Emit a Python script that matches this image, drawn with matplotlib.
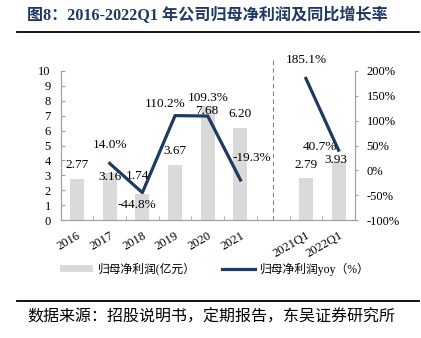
import matplotlib
matplotlib.use('Agg')
import matplotlib.pyplot as plt
from matplotlib.lines import Line2D
from matplotlib.patches import Patch
import numpy as np

plt.rcParams['font.family'] = ['Liberation Serif', 'Noto Sans CJK SC']

# data
categories = ['2016', '2017', '2018', '2019', '2020', '2021', '', '2021Q1', '2022Q1']
profit = [2.77, 3.16, 1.74, 3.67, 7.68, 6.20, np.nan, 2.79, 3.93]
yoy = [np.nan, 14.0, -44.8, 110.2, 109.3, -19.3, np.nan, 185.1, 40.7]

# label offsets in pixels (dx, dy), hand placed like the original
bar_off = [(0, 14), (0, -4), (-5, 18), (0, 14), (-1, -5), (0, 14), None, (0, 13), (-3, 1)]
yoy_off = [None, (0, 18), (-5, -12), (-10, 12), (0, 18), (11, 22), None, (0, 18), (-19, 3)]

bar_col = '#DADADA'
line_col = '#1F3A60'
axis_col = '#A0A0A0'

fig = plt.figure(figsize=(4.21, 3.38), dpi=100)
ax = fig.add_axes([0.144, 0.349, 0.699, 0.441])
ax2 = ax.twinx()

x = np.arange(len(categories))
ax.bar(x, profit, width=0.43, color=bar_col, zorder=1)
ax2.plot(x, yoy, color=line_col, linewidth=2.3, zorder=3)

ax.set_xlim(-0.5, len(categories) - 0.5)
ax.set_ylim(0, 10)
ax.set_yticks(range(0, 11))
ax2.set_ylim(-100, 200)
ax2.set_yticks(range(-100, 201, 50))
ax2.set_yticklabels([f'{v}%' for v in range(-100, 201, 50)])

ax.set_xticks(x)
ax.set_xticklabels(categories, rotation=30, ha='right', va='top', rotation_mode='anchor')
ax.set_xticks(np.arange(0.5, len(categories) - 1, 1), minor=True)
ax.tick_params(axis='x', which='major', length=0, pad=7, labelsize=9)
ax.tick_params(axis='x', which='minor', direction='in', length=3, color=axis_col)
ax.tick_params(axis='y', direction='in', length=3, color=axis_col, pad=7, labelsize=9)
ax2.tick_params(axis='y', direction='out', length=2.5, color=axis_col, pad=6, labelsize=9)

for a in (ax, ax2):
    a.spines['top'].set_visible(False)
    for s in ('left', 'right', 'bottom'):
        a.spines[s].set_color(axis_col)
        a.spines[s].set_linewidth(0.8)
ax.set_zorder(ax2.get_zorder() - 1)
ax2.patch.set_visible(False)

# dashed separator between years and quarters
ax.plot([6, 6], [0, 10.85], color='#808080', linestyle=(0, (4, 3)), linewidth=0.8, clip_on=False)

for i, v in enumerate(profit):
    if bar_off[i] is None:
        continue
    ax.annotate(f'{v:.2f}', (x[i], v), xytext=bar_off[i], textcoords='offset pixels',
                ha='center', va='center', fontsize=9.5, zorder=5)
for i, v in enumerate(yoy):
    if yoy_off[i] is None:
        continue
    ax2.annotate(f'{v:.1f}%', (x[i], v), xytext=yoy_off[i], textcoords='offset pixels',
                 ha='center', va='center', fontsize=9.5, zorder=5)

handles = [Patch(facecolor=bar_col, edgecolor='none'),
           Line2D([0], [0], color=line_col, linewidth=2.3)]
fig.legend(handles, ['归母净利润(亿元）', '归母净利润yoy（%）'], ncol=2, frameon=False,
           loc='center', bbox_to_anchor=(0.51, 0.204), fontsize=8.5,
           handlelength=2.8, handleheight=0.6, columnspacing=2.2, handletextpad=0.4)

fig.text(0.064, 0.955, '图8：2016-2022Q1 年公司归母净利润及同比增长率', fontsize=11.6,
         fontweight='bold', color='#1F3864', ha='left', va='center')
fig.add_artist(Line2D([0.04, 0.995], [0.905, 0.905], color='black', linewidth=1.3))
fig.add_artist(Line2D([0.04, 0.995], [0.11, 0.11], color='black', linewidth=1.3))
fig.text(0.064, 0.062, '数据来源：招股说明书，定期报告，东吴证券研究所', fontsize=11.5,
         family=['Noto Sans CJK SC'], ha='left', va='center')

fig.savefig('out.png', dpi=100)
